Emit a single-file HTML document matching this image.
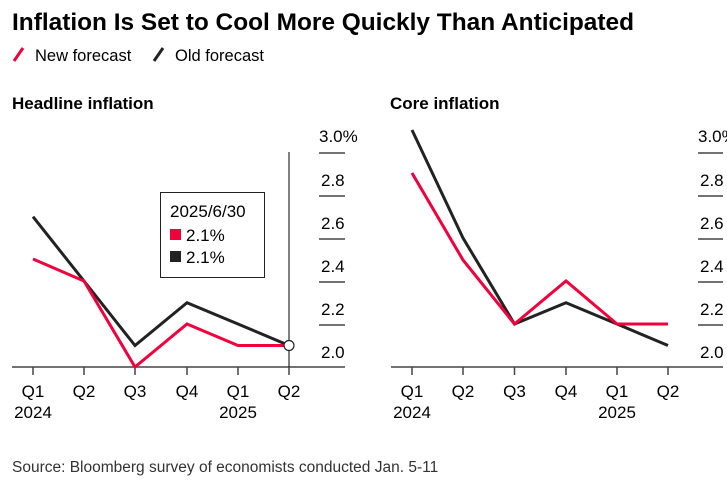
<!DOCTYPE html>
<html><head><style>
body{margin:0;background:#fff;width:727px;height:477px;overflow:hidden;font-family:"Liberation Sans",sans-serif;}
</style></head><body>
<svg width="727" height="477" xmlns="http://www.w3.org/2000/svg" font-family="Liberation Sans, sans-serif">
<text x="12" y="30" font-size="24" font-weight="bold" fill="#000" textLength="622" lengthAdjust="spacingAndGlyphs">Inflation Is Set to Cool More Quickly Than Anticipated</text>
<line x1="14" y1="61" x2="23" y2="48" stroke="#f2003c" stroke-width="3"/>
<text x="35" y="61" font-size="16.5" fill="#000">New forecast</text>
<line x1="154" y1="61" x2="163" y2="48" stroke="#222" stroke-width="3"/>
<text x="175" y="61" font-size="16.5" fill="#000">Old forecast</text>
<text x="12" y="109" font-size="17" font-weight="bold">Headline inflation</text>
<text x="390" y="109" font-size="17" font-weight="bold">Core inflation</text>
<g font-size="17" fill="#000">
<g stroke="#444" stroke-width="1.5">
<line x1="319" y1="153" x2="345" y2="153"/><line x1="319" y1="196" x2="345" y2="196"/>
<line x1="319" y1="239" x2="345" y2="239"/><line x1="319" y1="282" x2="345" y2="282"/>
<line x1="319" y1="325" x2="345" y2="325"/>
<line x1="12" y1="367" x2="345" y2="367"/>
<line x1="33" y1="367" x2="33" y2="375"/><line x1="84" y1="367" x2="84" y2="375"/><line x1="135" y1="367" x2="135" y2="375"/><line x1="187" y1="367" x2="187" y2="375"/><line x1="238" y1="367" x2="238" y2="375"/><line x1="289" y1="367" x2="289" y2="375"/>
<line x1="289" y1="152" x2="289" y2="367" stroke="#000" stroke-width="1"/>
</g>
<text x="319" y="142">3.0%</text><text x="321" y="186">2.8</text><text x="321" y="229">2.6</text><text x="321" y="272">2.4</text><text x="321" y="315">2.2</text><text x="321" y="358">2.0</text>
<polyline points="33,216.7 84,281 135,345.5 187,302.7 238,324 289,345.5" fill="none" stroke="#222" stroke-width="3"/>
<polyline points="33,259 84,281 135,367 187,324 238,345.5 289,345.5" fill="none" stroke="#f2003c" stroke-width="3"/>
<circle cx="289" cy="345.5" r="5" fill="#fff" stroke="#222" stroke-width="1.2"/>
<rect x="160.5" y="192.5" width="104" height="85" fill="#fff" stroke="#222" stroke-width="1"/>
<text x="170" y="217">2025/6/30</text>
<rect x="170" y="229" width="11" height="11" fill="#f2003c"/><text x="186" y="241">2.1%</text>
<rect x="170" y="251" width="11" height="11" fill="#222"/><text x="186" y="263">2.1%</text>
<g text-anchor="middle">
<text x="33" y="397">Q1</text><text x="84" y="397">Q2</text><text x="135" y="397">Q3</text><text x="187" y="397">Q4</text><text x="238" y="397">Q1</text><text x="289" y="397">Q2</text>
<text x="33" y="418">2024</text><text x="238" y="418">2025</text>
</g>
<g stroke="#444" stroke-width="1.5">
<line x1="698" y1="153" x2="723" y2="153"/><line x1="698" y1="196" x2="723" y2="196"/>
<line x1="698" y1="239" x2="723" y2="239"/><line x1="698" y1="282" x2="723" y2="282"/>
<line x1="698" y1="325" x2="723" y2="325"/>
<line x1="391" y1="367" x2="723" y2="367"/>
<line x1="412" y1="367" x2="412" y2="375"/><line x1="463" y1="367" x2="463" y2="375"/><line x1="514.5" y1="367" x2="514.5" y2="375"/><line x1="566" y1="367" x2="566" y2="375"/><line x1="617" y1="367" x2="617" y2="375"/><line x1="668" y1="367" x2="668" y2="375"/>
</g>
<text x="698" y="142">3.0%</text><text x="700" y="186">2.8</text><text x="700" y="229">2.6</text><text x="700" y="272">2.4</text><text x="700" y="315">2.2</text><text x="700" y="358">2.0</text>
<polyline points="412,130 463,238 514.5,324 566,302.7 617,324 668,345.5" fill="none" stroke="#222" stroke-width="3"/>
<polyline points="412,173 463,260 514.5,324 566,281 617,324 668,324" fill="none" stroke="#f2003c" stroke-width="3"/>
<g text-anchor="middle">
<text x="412" y="397">Q1</text><text x="463" y="397">Q2</text><text x="514.5" y="397">Q3</text><text x="566" y="397">Q4</text><text x="617" y="397">Q1</text><text x="668" y="397">Q2</text>
<text x="412" y="418">2024</text><text x="617" y="418">2025</text>
</g>
</g>
<text x="12" y="472" font-size="15.5" fill="#333">Source: Bloomberg survey of economists conducted Jan. 5-11</text>
</svg>
</body></html>
